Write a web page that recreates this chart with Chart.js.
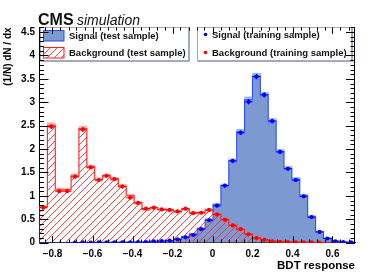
<!DOCTYPE html>
<html>
<head>
<meta charset="utf-8">
<script src="https://cdn.jsdelivr.net/npm/chart.js@4.4.1/dist/chart.umd.min.js"></script>
<style>
  body { margin: 0; background: #fff; }
  #wrap { width: 374px; height: 276px; position: relative; }
</style>
</head>
<body>
<div id="wrap"><canvas id="chart"></canvas></div>
<script>
// Histogram range and binning (BDT response)
const xMin = -0.865;
const xMax = 0.7125;
const nBins = 40;

// Background, test sample (hatched histogram)
const bgTest = [0.77, 2.51, 1.13, 1.13, 1.43, 2.44, 1.62, 1.35, 1.43, 1.36,
                1.21, 1.01, 0.85, 0.71, 0.74, 0.71, 0.70, 0.66, 0.71, 0.64,
                0.64, 0.70, 0.61, 0.50, 0.38, 0.28, 0.19, 0.11, 0.06, 0.03,
                0.02, 0.015, 0.01, 0.008, 0.005, 0.003, 0, 0, 0, 0];
// Background, training sample (red points)
const bgTrain = [0.75, 2.48, 1.10, 1.10, 1.41, 2.42, 1.61, 1.34, 1.43, 1.36,
                 1.20, 0.96, 0.85, 0.73, 0.75, 0.71, 0.70, 0.67, 0.73, 0.63,
                 0.64, 0.70, 0.60, 0.49, 0.37, 0.29, 0.18, 0.10, 0.06, 0.03,
                 0.02, 0.015, 0.01, 0.01, 0.005, 0.003, 0, 0, 0, 0];
// Signal, test sample (filled histogram)
const sigTest = [0, 0, 0, 0, 0.005, 0.005, 0.005, 0.005, 0.007, 0.007,
                 0.008, 0.01, 0.01, 0.012, 0.02, 0.03, 0.045, 0.08, 0.13, 0.19,
                 0.30, 0.49, 0.81, 1.22, 1.75, 2.37, 3.06, 3.56, 3.16, 2.60,
                 1.95, 1.59, 1.355, 1.00, 0.555, 0.235, 0.094, 0.035, 0.015, 0.01];
// Signal, training sample (blue points)
const sigTrain = [0, 0, 0, 0, 0.004, 0.005, 0.004, 0.006, 0.006, 0.008,
                  0.008, 0.01, 0.012, 0.012, 0.03, 0.035, 0.045, 0.07, 0.115, 0.165,
                  0.29, 0.48, 0.79, 1.22, 1.75, 2.35, 3.01, 3.55, 3.16, 2.60,
                  1.94, 1.58, 1.34, 0.99, 0.545, 0.23, 0.09, 0.03, 0.012, 0.01];
// Statistical errors per bin
const bgErr = [0.03, 0.05, 0.035, 0.035, 0.04, 0.05, 0.04, 0.035, 0.035, 0.035,
               0.035, 0.03, 0.03, 0.025, 0.025, 0.025, 0.025, 0.025, 0.025, 0.025,
               0.025, 0.025, 0.025, 0.02, 0.02, 0.015, 0.015, 0.01, 0.008, 0.006,
               0.005, 0.004, 0.003, 0.003, 0.002, 0.002, 0, 0, 0, 0];
const sigErr = [0, 0, 0, 0, 0.003, 0.003, 0.003, 0.003, 0.003, 0.003,
                0.003, 0.003, 0.003, 0.003, 0.005, 0.006, 0.007, 0.01, 0.012, 0.015,
                0.02, 0.025, 0.03, 0.035, 0.04, 0.05, 0.055, 0.06, 0.055, 0.05,
                0.045, 0.04, 0.04, 0.035, 0.025, 0.015, 0.01, 0.006, 0.004, 0.003];

const yMax = 4.6;
const yMajor = 0.5, yMinor = 0.1;
const xMajor = 0.2, xMinor = 0.04;

const fontFamily = '"Liberation Sans", Arial, Helvetica, sans-serif';
const sigFill = '#7d99d1';
const sigLine = '#2b4cf0';
const bgLine = '#ff1a1a';

const binW = (xMax - xMin) / nBins;
const edges = [];
for (let i = 0; i <= nBins; i++) edges.push(xMin + i * binW);
const centers = edges.slice(0, nBins).map(e => e + binW / 2);

// step outline points, one per left bin edge
function steps(vals) {
    const pts = [{ x: edges[0], y: 0 }];
    vals.forEach((v, i) => pts.push({ x: edges[i], y: v }));
    pts.push({ x: edges[nBins], y: vals[nBins - 1] });
    pts.push({ x: edges[nBins], y: 0 });
    return pts;
}
function band(vals, errs) {
    return vals.map((v, i) => ({ x: centers[i], y: [v - errs[i], v + errs[i]] }))
               .filter((p, i) => vals[i] > 0);
}
function points(vals) {
    return vals.map((v, i) => ({ x: centers[i], y: v })).filter(p => p.y > 0);
}

// hatch pattern (ROOT style 3554-ish)
function makeHatch() {
    const c = document.createElement('canvas');
    c.width = 7; c.height = 7;
    const g = c.getContext('2d');
    g.strokeStyle = '#ff2a2a';
    g.lineWidth = 0.9;
    g.beginPath();
    g.moveTo(-1, 8); g.lineTo(8, -1);
    g.moveTo(-4, 4); g.lineTo(4, -4);
    g.moveTo(3, 11); g.lineTo(11, 3);
    g.stroke();
    return g.createPattern(c, 'repeat');
}
const hatch = makeHatch();

// ROOT-like inward ticks, frame, legend and CMS label
const decorations = {
    id: 'decorations',
    afterDatasetsDraw(chart) {
        const ctx = chart.ctx;
        const xs = chart.scales.x, ys = chart.scales.y;

        // training error bars
        ctx.save();
        ctx.lineWidth = 1;
        [[sigTrain, sigErr, '#0000ff'], [bgTrain, bgErr, '#ff0000']].forEach(([vals, errs, col]) => {
            ctx.strokeStyle = col;
            ctx.beginPath();
            vals.forEach((v, i) => {
                if (v <= 0) return;
                const y = ys.getPixelForValue(v);
                ctx.moveTo(xs.getPixelForValue(edges[i]), y);
                ctx.lineTo(xs.getPixelForValue(edges[i + 1]), y);
                const cx = xs.getPixelForValue(centers[i]);
                ctx.moveTo(cx, ys.getPixelForValue(v - errs[i]));
                ctx.lineTo(cx, ys.getPixelForValue(v + errs[i]));
            });
            ctx.stroke();
        });
        ctx.restore();
    },
    afterDraw(chart) {
        const ctx = chart.ctx;
        const xs = chart.scales.x, ys = chart.scales.y;
        const a = chart.chartArea;
        ctx.save();

        // legend boxes
        ctx.fillStyle = '#fff';
        ctx.strokeStyle = '#a3abbb';
        ctx.lineWidth = 1;
        [[40.5, 27.5, 148, 33], [197.5, 27.5, 154, 33]].forEach(([x, y, w, h]) => {
            ctx.fillRect(x, y, w, h);
            ctx.strokeRect(x, y, w, h);
            ctx.fillStyle = '#a3abbb';
            ctx.fillRect(x, y + h, w + 1, 1.5);
            ctx.fillRect(x + w, y, 1.5, h + 1.5);
            ctx.fillStyle = '#fff';
        });
        // swatches
        ctx.fillStyle = sigFill;
        ctx.fillRect(43.5, 30.5, 20.5, 10.5);
        ctx.strokeStyle = sigLine;
        ctx.strokeRect(43.5, 30.5, 20.5, 10.5);
        ctx.fillStyle = hatch;
        ctx.fillRect(43.5, 47.5, 20.5, 10.5);
        ctx.strokeStyle = bgLine;
        ctx.strokeRect(43.5, 47.5, 20.5, 10.5);
        ctx.fillStyle = '#0000ff';
        ctx.beginPath(); ctx.arc(205.5, 34.5, 1.8, 0, Math.PI * 2); ctx.fill();
        ctx.fillStyle = '#ff0000';
        ctx.beginPath(); ctx.arc(205.5, 52.5, 1.8, 0, Math.PI * 2); ctx.fill();

        ctx.fillStyle = '#111';
        ctx.font = 'bold 9.5px ' + fontFamily;
        ctx.textBaseline = 'middle';
        ctx.textAlign = 'left';
        ctx.fillText('Signal (test sample)', 69, 36);
        ctx.fillText('Background (test sample)', 69, 53);
        ctx.fillText('Signal (training sample)', 212, 35);
        ctx.fillText('Background (training sample)', 212, 53);

        // CMS simulation label
        ctx.textBaseline = 'alphabetic';
        ctx.font = 'bold 16px ' + fontFamily;
        ctx.fillText('CMS', 38, 25);
        ctx.font = 'italic 14px ' + fontFamily;
        ctx.fillText('simulation', 77, 25);

        // frame right
        ctx.strokeStyle = '#000';
        ctx.lineWidth = 1;
        ctx.beginPath();
        ctx.moveTo(a.right - 0.5, a.top);
        ctx.lineTo(a.right - 0.5, a.bottom);
        ctx.stroke();

        // y ticks on both sides
        ctx.beginPath();
        const nY = Math.round(yMax / yMinor);
        for (let k = 0; k <= nY; k++) {
            const v = k * yMinor;
            const y = Math.round(ys.getPixelForValue(v)) + 0.5;
            const len = (k % Math.round(yMajor / yMinor) === 0) ? 9 : 4.5;
            ctx.moveTo(a.left, y); ctx.lineTo(a.left + len, y);
            ctx.moveTo(a.right, y); ctx.lineTo(a.right - len, y);
        }
        // x ticks on bottom and top
        const kStart = Math.ceil((xMin + 1e-9) / xMinor);
        const kEnd = Math.floor((xMax - 1e-9) / xMinor);
        for (let k = kStart; k <= kEnd; k++) {
            const v = k * xMinor;
            const x = Math.round(xs.getPixelForValue(v)) + 0.5;
            const len = (k % Math.round(xMajor / xMinor) === 0) ? 6.5 : 3.2;
            ctx.moveTo(x, a.bottom); ctx.lineTo(x, a.bottom - len);
            ctx.moveTo(x, a.top); ctx.lineTo(x, a.top + len);
        }
        ctx.stroke();
        ctx.restore();
    }
};

const fmt = v => {
    const s = String(Math.round(Math.abs(v) * 100) / 100);
    return v < 0 ? '\u2212' + s : s;
};

new Chart(document.getElementById('chart'), {
    type: 'line',
    data: {
        datasets: [
            {
                type: 'scatter', label: 'Signal (training sample)',
                data: points(sigTrain), pointRadius: 2.1, pointBackgroundColor: '#0000ff',
                pointBorderWidth: 0, order: 0
            },
            {
                type: 'scatter', label: 'Background (training sample)',
                data: points(bgTrain), pointRadius: 2.1, pointBackgroundColor: '#ff0000',
                pointBorderWidth: 0, order: 0
            },
            {
                type: 'bar', label: 'bg err', data: band(bgTest, bgErr),
                backgroundColor: 'rgba(255,110,110,0.55)', grouped: false,
                barPercentage: 1, categoryPercentage: 1, borderWidth: 0, order: 2
            },
            {
                label: 'Background (test sample)', data: steps(bgTest), stepped: 'before',
                borderColor: bgLine, borderWidth: 1.1, backgroundColor: hatch,
                fill: 'origin', pointRadius: 0, order: 3
            },
            {
                type: 'bar', label: 'sig err', data: band(sigTest, sigErr),
                backgroundColor: 'rgba(90,120,255,0.55)', grouped: false,
                barPercentage: 1, categoryPercentage: 1, borderWidth: 0, order: 4
            },
            {
                label: 'Signal (test sample)', data: steps(sigTest), stepped: 'before',
                borderColor: sigLine, borderWidth: 1.1, backgroundColor: sigFill,
                fill: 'origin', pointRadius: 0, order: 5
            }
        ]
    },
    options: {
        responsive: true,
        maintainAspectRatio: false,
        devicePixelRatio: 1,
        animation: false,
        layout: { padding: { top: 27.4, right: 19, bottom: 0, left: 0 } },
        plugins: { legend: { display: false }, tooltip: { enabled: false } },
        scales: {
            x: {
                type: 'linear', min: xMin, max: xMax, offset: false,
                afterFit: s => { s.height = 33.3; },
                grid: { display: false, drawTicks: false, offset: false },
                border: { display: true, color: '#000', width: 1 },
                ticks: {
                    stepSize: xMajor, includeBounds: false, autoSkip: false, maxRotation: 0,
                    padding: 6, color: '#000', font: { family: fontFamily, size: 10, weight: 'bold' },
                    callback: fmt
                },
                title: {
                    display: true, text: 'BDT response', align: 'end', color: '#000',
                    font: { family: fontFamily, size: 11.5, weight: 'bold' },
                    padding: { top: 0, bottom: 3 }
                }
            },
            y: {
                type: 'linear', min: 0, max: yMax,
                afterFit: s => { s.width = 39.5; },
                grid: { display: false, drawTicks: false },
                border: { display: true, color: '#000', width: 1 },
                ticks: {
                    stepSize: yMajor, includeBounds: false, padding: 4.5, color: '#000',
                    font: { family: fontFamily, size: 10, weight: 'bold' },
                    callback: fmt
                },
                title: {
                    display: true, text: '(1/N) dN / dx', align: 'end', color: '#000',
                    font: { family: fontFamily, size: 10, weight: 'bold' },
                    padding: { top: 2, bottom: 0 }
                }
            }
        }
    },
    plugins: [decorations]
});
</script>
</body>
</html>
